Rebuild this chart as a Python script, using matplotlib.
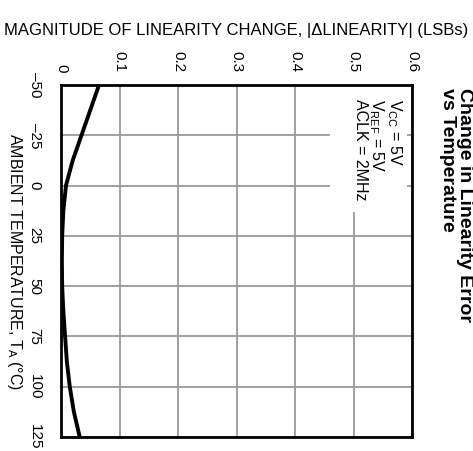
import matplotlib
matplotlib.use("Agg")
import matplotlib.pyplot as plt
from matplotlib.patches import Rectangle

plt.rcParams['font.family'] = ['Liberation Sans', 'DejaVu Sans']

# data (temperature in C, |dLinearity| in LSB)
temp = [-50, -37.5, -25, -12.5, 0, 12.5, 25, 37.5, 50, 62.5, 75, 87.5, 100, 112.5, 125]
lin = [0.065, 0.050, 0.035, 0.020, 0.0085, 0.004, 0.002, 0.0015, 0.002, 0.004, 0.007, 0.010, 0.015, 0.022, 0.032]

lsb_ticks = [0, 0.1, 0.2, 0.3, 0.4, 0.5, 0.6]
lsb_labels = ["0", "0.1", "0.2", "0.3", "0.4", "0.5", "0.6"]
temp_ticks = [-50, -25, 0, 25, 50, 75, 100, 125]
temp_labels = ["\u201350", "\u201325", "0", "25", "50", "75", "100", "125"]

fig = plt.figure(figsize=(4.73, 4.51), dpi=100)
ax = fig.add_axes([61/473, 14/451, 351/473, 352/451])

ax.plot(lin, temp, color='black', lw=2.8, zorder=4, solid_capstyle='butt')

ax.set_xlim(0, 0.6)
ax.set_ylim(125, -50)
ax.set_xticks(lsb_ticks)
ax.set_yticks(temp_ticks)
ax.xaxis.tick_top()
ax.set_xticklabels(lsb_labels, rotation=-90, fontsize=11, va='bottom', ha='center')
ax.set_yticklabels(temp_labels, rotation=-90, fontsize=11, va='center', ha='right')
ax.tick_params(axis='x', length=0, pad=9)
ax.tick_params(axis='y', length=0, pad=14)
ax.grid(True, color='#9a9a9a', lw=1.3)
ax.set_axisbelow(True)
for s in ax.spines.values():
    s.set_linewidth(2)
    s.set_zorder(6)

# white patch behind the conditions text
ax.add_patch(Rectangle((0.46, -50), 0.131, 63, facecolor='white', edgecolor='none', zorder=2))
ax.text(0.586, -43, "V$_{\\mathregular{CC}}$ = 5V\nV$_{\\mathregular{REF}}$ = 5V\nACLK = 2MHz",
        rotation=-90, fontsize=11.5, ha='right', va='top', multialignment='left',
        linespacing=0.95, zorder=3)

fig.text(236/473, 1 - 30/451, "MAGNITUDE OF LINEARITY CHANGE, |\u0394LINEARITY| (LSBs)",
         ha='center', va='center', fontsize=12)
fig.text(14/473, 1 - 262/451, "AMBIENT TEMPERATURE, T$_{\\mathregular{A}}$ (\u00b0C)",
         rotation=-90, ha='center', va='center', fontsize=11.5)
fig.text(473/473, 1 - 88/451, "Change in Linearity Error\nvs Temperature",
         rotation=-90, ha='right', va='top', multialignment='left',
         fontsize=14, fontweight='bold', linespacing=1.0)

fig.savefig("out.png", dpi=100)
